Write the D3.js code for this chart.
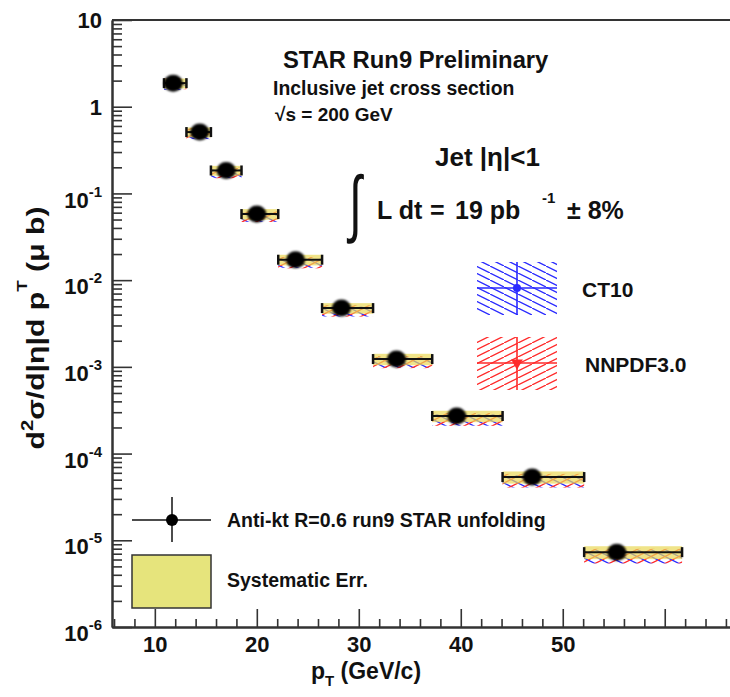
<!DOCTYPE html>
<html>
<head>
<meta charset="utf-8">
<script src="https://cdn.jsdelivr.net/npm/d3@7"></script>
<style>
body { margin: 0; background: #fff; }
text { font-family: "Liberation Sans", Arial, sans-serif; font-weight: bold; fill: #111; }
</style>
</head>
<body>
<div id="viz"></div>
<script>
// values
var ptMean = [11.8, 14.4, 17.0, 20.0, 23.8, 28.3, 33.7, 39.6, 47.0, 55.3];
var binLo  = [10.9, 13.1, 15.5, 18.5, 22.1, 26.4, 31.4, 37.2, 44.1, 52.1];
var binHi  = [13.1, 15.5, 18.5, 22.1, 26.4, 31.4, 37.2, 44.1, 52.1, 61.7];
var xsec   = [1.87, 0.51, 0.184, 0.0578, 0.0172, 0.00476, 0.00123, 2.71e-4, 5.36e-5, 7.3e-6];
var statErr = [0.01, 0.01, 0.01, 0.01, 0.015, 0.02, 0.02, 0.03, 0.04, 0.06];
var sysErr  = [0.13, 0.13, 0.13, 0.14, 0.14, 0.14, 0.15, 0.15, 0.16, 0.17];

var ct10    = [1.76, 0.475, 0.170, 0.0535, 0.0158, 0.00438, 0.00113, 2.47e-4, 4.85e-5, 6.6e-6];
var ct10Err = [0.11, 0.11, 0.11, 0.12, 0.12, 0.13, 0.14, 0.15, 0.16, 0.18];
var nnpdf    = [1.85, 0.495, 0.174, 0.0545, 0.0161, 0.00447, 0.00115, 2.52e-4, 4.95e-5, 6.7e-6];
var nnpdfErr = [0.14, 0.14, 0.14, 0.14, 0.15, 0.15, 0.16, 0.17, 0.18, 0.19];

var xMajor = [10, 20, 30, 40, 50, 60];
var xMinor = [6, 8, 12, 14, 16, 18, 22, 24, 26, 28, 32, 34, 36, 38, 42, 44, 46, 48, 52, 54, 56, 58, 62, 64, 66];
var xLabels = [10, 20, 30, 40, 50];
var yMajor = [1e-6, 1e-5, 1e-4, 1e-3, 1e-2, 1e-1, 1, 10];

var W = 730, H = 697;
var svg = d3.select('#viz').append('svg').attr('width', W).attr('height', H);

var x = d3.scaleLinear().domain([5.8, 66.4]).range([112, 730]);
var y = d3.scaleLog().domain([1e-6, 10]).range([627, 20]);

var defs = svg.append('defs');
function hatch(id, col, up) {
	var p = defs.append('pattern').attr('id', id)
		.attr('patternUnits', 'userSpaceOnUse')
		.attr('width', 14).attr('height', 7);
	p.append('line')
		.attr('x1', 0).attr('y1', up ? 7 : 0)
		.attr('x2', 14).attr('y2', up ? 0 : 7)
		.attr('stroke', col).attr('stroke-width', 1.3);
}
hatch('hatchBlue', '#2a2aff', false);
hatch('hatchRed', '#ff2a2a', true);
defs.append('filter').attr('id', 'soft')
	.append('feGaussianBlur').attr('stdDeviation', 0.8);

// axes
var axisCol = '#333';
var xMin = svg.append('g').attr('transform', 'translate(0,627)')
	.call(d3.axisBottom(x).tickValues(xMinor).tickSize(-8).tickSizeOuter(0).tickFormat(''));
var xMaj = svg.append('g').attr('transform', 'translate(0,627)')
	.call(d3.axisBottom(x).tickValues(xMajor).tickSize(-18).tickSizeOuter(0).tickPadding(9)
		.tickFormat(function(d) { return xLabels.indexOf(d) >= 0 ? d : ''; }));
xMaj.selectAll('text').attr('font-size', 22);

var yMinorTicks = y.ticks().filter(function(d) { return yMajor.indexOf(d) < 0; });
var yMin = svg.append('g').attr('transform', 'translate(112,0)')
	.call(d3.axisLeft(y).tickValues(yMinorTicks).tickSize(-10).tickSizeOuter(0).tickFormat(''));
var yMaj = svg.append('g').attr('transform', 'translate(112,0)')
	.call(d3.axisLeft(y).tickValues(yMajor).tickSize(-20).tickSizeOuter(0).tickPadding(10));
yMaj.selectAll('text').attr('font-size', 22).each(function(d) {
	var e = Math.round(Math.log10(d));
	var t = d3.select(this).text('');
	if (e == 1) t.attr('dy', '0.36em').text('10');
	else if (e == 0) t.attr('dy', '0.36em').text('1');
	else {
		t.attr('dy', '0.62em');
		t.append('tspan').text('10');
		t.append('tspan').attr('dy', -11).attr('font-size', 15).text(e);
	}
});
[xMin, xMaj, yMin, yMaj].forEach(function(a) {
	a.select('.domain').attr('stroke', axisCol).attr('stroke-width', 2);
	a.selectAll('.tick line').attr('stroke', axisCol).attr('stroke-width', 1.6);
});
svg.append('line')
	.attr('x1', x.range()[0]).attr('x2', x.range()[1])
	.attr('y1', y(10)).attr('y2', y(10))
	.attr('stroke', axisCol).attr('stroke-width', 2);

// data
var idx = d3.range(xsec.length);
var plot = svg.append('g');

function band(vals, errs, fill) {
	plot.append('g').selectAll('rect').data(idx).enter().append('rect')
		.attr('x', function(i) { return x(binLo[i]); })
		.attr('width', function(i) { return x(binHi[i]) - x(binLo[i]); })
		.attr('y', function(i) { return y(vals[i] * (1 + errs[i])); })
		.attr('height', function(i) { return y(vals[i] * (1 - errs[i])) - y(vals[i] * (1 + errs[i])); })
		.attr('fill', fill);
}
band(ct10, ct10Err, 'url(#hatchBlue)');
band(nnpdf, nnpdfErr, 'url(#hatchRed)');

plot.append('g').selectAll('rect').data(idx).enter().append('rect')
	.attr('x', function(i) { return x(binLo[i]); })
	.attr('width', function(i) { return x(binHi[i]) - x(binLo[i]); })
	.attr('y', function(i) { return y(xsec[i] * (1 + sysErr[i])); })
	.attr('height', function(i) { return y(xsec[i] * (1 - sysErr[i])) - y(xsec[i] * (1 + sysErr[i])); })
	.attr('fill', '#ead957').attr('fill-opacity', 0.7);

var pts = plot.append('g').selectAll('g').data(idx).enter().append('g');
pts.append('line')
	.attr('x1', function(i) { return x(binLo[i]); })
	.attr('x2', function(i) { return x(binHi[i]); })
	.attr('y1', function(i) { return y(xsec[i]); })
	.attr('y2', function(i) { return y(xsec[i]); })
	.attr('stroke', '#111').attr('stroke-width', 2);
[binLo, binHi].forEach(function(edge) {
	pts.append('line')
		.attr('x1', function(i) { return x(edge[i]); })
		.attr('x2', function(i) { return x(edge[i]); })
		.attr('y1', function(i) { return y(xsec[i]) - 5; })
		.attr('y2', function(i) { return y(xsec[i]) + 5; })
		.attr('stroke', '#111').attr('stroke-width', 2.5);
});
pts.append('line')
	.attr('x1', function(i) { return x(ptMean[i]); })
	.attr('x2', function(i) { return x(ptMean[i]); })
	.attr('y1', function(i) { return y(xsec[i] * (1 + statErr[i])); })
	.attr('y2', function(i) { return y(xsec[i] * (1 - statErr[i])); })
	.attr('stroke', '#111').attr('stroke-width', 2);
pts.append('ellipse')
	.attr('cx', function(i) { return x(ptMean[i]); })
	.attr('cy', function(i) { return y(xsec[i]); })
	.attr('rx', 9.5).attr('ry', 8.5).attr('fill', '#000')
	.attr('filter', 'url(#soft)');

// axis titles
svg.append('text')
	.attr('transform', 'translate(44,328) rotate(-90)')
	.attr('text-anchor', 'middle').attr('font-size', 24)
	.attr('textLength', 243).attr('lengthAdjust', 'spacingAndGlyphs')
	.call(function(t) {
		t.append('tspan').text('d');
		t.append('tspan').attr('dy', -11).attr('font-size', 16).text('2');
		t.append('tspan').attr('dy', 11).text('σ/d|η|d p');
		t.append('tspan').attr('dy', -17).attr('font-size', 15).text('T');
		t.append('tspan').attr('dy', 17).text(' (μ b)');
	});
svg.append('text')
	.attr('x', 366).attr('y', 679).attr('text-anchor', 'middle').attr('font-size', 23)
	.call(function(t) {
		t.append('tspan').text('p');
		t.append('tspan').attr('dy', 7).attr('font-size', 15).text('T');
		t.append('tspan').attr('dy', -7).text(' (GeV/c)');
	});

// annotations
svg.append('text').attr('x', 283).attr('y', 68).attr('font-size', 23.8).text('STAR Run9 Preliminary');
svg.append('text').attr('x', 273).attr('y', 95).attr('font-size', 19.4).text('Inclusive jet cross section');
svg.append('text').attr('x', 275).attr('y', 121).attr('font-size', 19).text('√s = 200 GeV');
svg.append('text').attr('x', 435).attr('y', 166).attr('font-size', 26).text('Jet |η|<1');

svg.append('text').attr('transform', 'translate(349,228) scale(1,1.6)')
	.attr('font-size', 46).style('font-weight', 'normal').text('∫');
var lum = svg.append('text').attr('y', 219).attr('font-size', 25);
lum.append('tspan').attr('x', 377).text('L dt');
lum.append('tspan').attr('x', 430).text('=');
lum.append('tspan').attr('x', 455).text('19 pb');
lum.append('tspan').attr('x', 542).attr('y', 203).attr('font-size', 15).text('-1');
lum.append('tspan').attr('x', 567).attr('y', 219).text('± 8%');

// theory legend
var legTheory = [
	{ label: 'CT10', top: 262, col: '#2a2aff', pat: 'url(#hatchBlue)', tx: 582, ty: 297, marker: 'circle' },
	{ label: 'NNPDF3.0', top: 337, col: '#ff2a2a', pat: 'url(#hatchRed)', tx: 585, ty: 372, marker: 'tri' }
];
legTheory.forEach(function(l) {
	var g = svg.append('g');
	g.append('rect').attr('x', 477).attr('y', l.top).attr('width', 80).attr('height', 53).attr('fill', l.pat);
	g.append('line').attr('x1', 477).attr('x2', 557).attr('y1', l.top + 26).attr('y2', l.top + 26)
		.attr('stroke', l.col).attr('stroke-width', 1.6);
	g.append('line').attr('x1', 517).attr('x2', 517).attr('y1', l.top).attr('y2', l.top + 53)
		.attr('stroke', l.col).attr('stroke-width', 1.6);
	if (l.marker == 'circle')
		g.append('circle').attr('cx', 517).attr('cy', l.top + 26).attr('r', 4).attr('fill', l.col);
	else
		g.append('path').attr('d', d3.symbol().type(d3.symbolTriangle).size(60))
			.attr('transform', 'translate(517,' + (l.top + 26) + ') rotate(180)').attr('fill', l.col);
	g.append('text').attr('x', l.tx).attr('y', l.ty).attr('font-size', 21).text(l.label);
});

// data legend
var leg = svg.append('g');
leg.append('line').attr('x1', 132).attr('x2', 211).attr('y1', 520).attr('y2', 520).attr('stroke', '#111').attr('stroke-width', 1.5);
leg.append('line').attr('x1', 172).attr('x2', 172).attr('y1', 497).attr('y2', 542).attr('stroke', '#111').attr('stroke-width', 1.5);
leg.append('circle').attr('cx', 172).attr('cy', 520).attr('r', 6).attr('fill', '#000');
leg.append('text').attr('x', 227).attr('y', 527).attr('font-size', 19.5).text('Anti-kt R=0.6 run9 STAR unfolding');
leg.append('rect').attr('x', 132).attr('y', 555).attr('width', 79).attr('height', 53)
	.attr('fill', '#e6e47c').attr('stroke', '#333').attr('stroke-width', 1.5);
leg.append('text').attr('x', 227).attr('y', 587).attr('font-size', 19.5).text('Systematic Err.');
</script>
</body>
</html>
